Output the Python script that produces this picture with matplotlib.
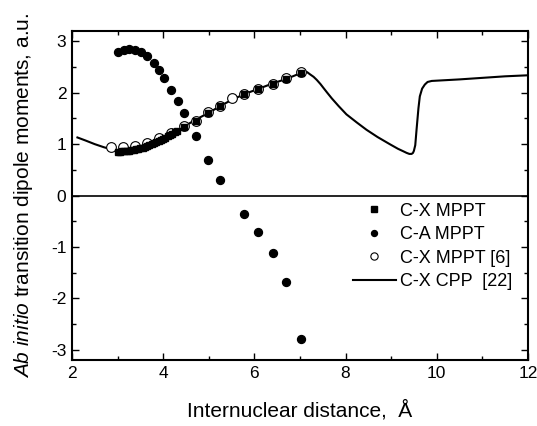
import numpy as np
import matplotlib.pyplot as plt
from matplotlib.ticker import MultipleLocator

plt.rcParams['font.family'] = ['Liberation Sans', 'DejaVu Sans']
plt.rcParams['mathtext.fontset'] = 'custom'
plt.rcParams['mathtext.rm'] = 'Liberation Sans'
plt.rcParams['mathtext.it'] = 'Liberation Sans:italic'
plt.rcParams['axes.unicode_minus'] = False

# C-X MPPT (filled squares)
cx_r = [3.0, 3.05, 3.1, 3.15, 3.2, 3.25, 3.3, 3.35, 3.4, 3.45, 3.5, 3.55, 3.6,
        3.65, 3.7, 3.75, 3.8, 3.85, 3.9, 3.95, 4.0, 4.05, 4.1, 4.15, 4.2, 4.25,
        4.3, 4.45, 4.71, 4.98, 5.25, 5.77, 6.09, 6.40, 6.69, 7.02]
cx_d = [0.85, 0.85, 0.86, 0.86, 0.87, 0.87, 0.88, 0.89, 0.90, 0.91, 0.92, 0.93, 0.95,
        0.96, 0.98, 1.00, 1.02, 1.04, 1.06, 1.08, 1.10, 1.12, 1.15, 1.17, 1.20, 1.23,
        1.26, 1.34, 1.46, 1.61, 1.75, 1.98, 2.07, 2.18, 2.27, 2.39]

# C-A MPPT (filled circles)
ca_r = [3.02, 3.14, 3.26, 3.38, 3.51, 3.65, 3.80, 3.91, 4.02, 4.18, 4.32, 4.45,
        4.71, 4.98, 5.25, 5.77, 6.09, 6.40, 6.69, 7.02]
ca_d = [2.80, 2.84, 2.86, 2.84, 2.80, 2.71, 2.58, 2.44, 2.29, 2.06, 1.83, 1.61,
        1.15, 0.70, 0.30, -0.35, -0.70, -1.12, -1.69, -2.79]

# C-X MPPT [6] (open circles)
ref6_r = [2.86, 3.13, 3.38, 3.64, 3.91, 4.18, 4.45, 4.71, 4.98, 5.25, 5.51,
          5.77, 6.09, 6.40, 6.69, 7.02]
ref6_d = [0.94, 0.94, 0.97, 1.02, 1.12, 1.22, 1.35, 1.46, 1.62, 1.75, 1.89,
          1.98, 2.08, 2.18, 2.28, 2.40]

# C-X CPP [22] (solid line)
cpp_r = [2.12, 2.3, 2.5, 2.7, 2.9, 3.0, 3.2, 3.4, 3.6, 3.8, 4.0, 4.2, 4.4, 4.7,
         5.0, 5.25, 5.5, 5.8, 6.1, 6.4, 6.7, 6.9, 7.0, 7.05, 7.1, 7.16, 7.22,
         7.3, 7.37, 7.45, 7.52, 7.6, 7.7, 7.85, 8.02, 8.25, 8.46, 8.7, 8.97,
         9.15, 9.27, 9.34, 9.40, 9.45, 9.48, 9.50, 9.53, 9.56, 9.60, 9.63, 9.68,
         9.74, 9.80, 9.89, 10.5, 11.0, 11.5, 12.0]
cpp_d = [1.13, 1.07, 1.00, 0.94, 0.89, 0.87, 0.87, 0.89, 0.94, 1.01, 1.10, 1.20,
         1.31, 1.47, 1.61, 1.74, 1.86, 1.98, 2.08, 2.18, 2.27, 2.34, 2.38, 2.41,
         2.42, 2.40, 2.36, 2.31, 2.25, 2.17, 2.09, 2.00, 1.89, 1.74, 1.58, 1.42,
         1.28, 1.14, 1.00, 0.91, 0.86, 0.83, 0.81, 0.81, 0.83, 0.87, 0.98, 1.30,
         1.70, 1.93, 2.08, 2.16, 2.21, 2.23, 2.26, 2.29, 2.32, 2.34]

fig = plt.figure(figsize=(5.37, 4.26), dpi=100)
ax = fig.add_axes([0.134, 0.155, 0.849, 0.772])

ax.axhline(0, color='black', lw=1.2, zorder=1)
ax.plot(cpp_r, cpp_d, '-', color='black', lw=1.5, label='C-X CPP  [22]', zorder=2)
ax.plot(ref6_r, ref6_d, 'o', mfc='white', mec='black', mew=0.8, ms=7,
        label='C-X MPPT [6]', zorder=3)
ax.plot(cx_r, cx_d, 's', color='black', ms=5, label='C-X MPPT', zorder=4)
ax.plot(ca_r, ca_d, 'o', color='black', ms=5.7, label='C-A MPPT', zorder=4)

ax.set_xlim(2, 12)
ax.set_ylim(-3.2, 3.2)
ax.xaxis.set_major_locator(MultipleLocator(2))
ax.xaxis.set_minor_locator(MultipleLocator(1))
ax.yaxis.set_major_locator(MultipleLocator(1))
ax.yaxis.set_minor_locator(MultipleLocator(0.5))
ax.tick_params(which='both', direction='in', top=True, right=True,
               labelsize=12.5, width=1.0)
ax.tick_params(which='major', length=5, pad=4)
ax.tick_params(which='minor', length=3)
for sp in ax.spines.values():
    sp.set_linewidth(1.5)

ax.set_xlabel('Internuclear distance,  Å', fontsize=15, labelpad=14)
ax.set_ylabel(r'$\it{Ab\ initio}$ transition dipole moments, a.u.', fontsize=15)
ax.yaxis.set_label_coords(-0.082, 0.5)

h, l = ax.get_legend_handles_labels()
order = [2, 3, 1, 0]
ax.legend([h[i] for i in order], [l[i] for i in order], loc='upper left',
          bbox_to_anchor=(0.616, 0.478), frameon=False, fontsize=13,
          handlelength=2.4, handletextpad=0.2, labelspacing=0.36, borderpad=0,
          borderaxespad=0, markerscale=0.75)

fig.savefig('out.png', dpi=100)
